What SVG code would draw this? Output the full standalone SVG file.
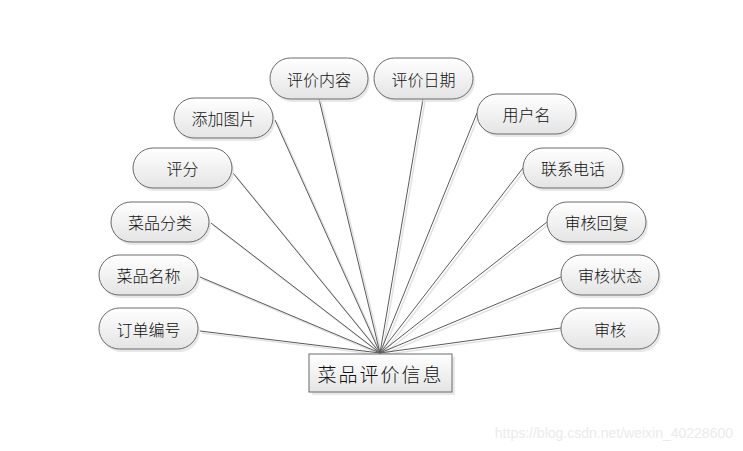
<svg xmlns="http://www.w3.org/2000/svg" width="743" height="451" viewBox="0 0 743 451">
<defs>
<linearGradient id="g" x1="0" y1="0" x2="0" y2="1">
<stop offset="0" stop-color="#ffffff"/>
<stop offset="1" stop-color="#e4e4e4"/>
</linearGradient>
</defs>
<style>
.n rect.s{fill:#d8d8d8;opacity:0.6}
.n rect.b{fill:url(#g);stroke:#6a6a6a;stroke-width:1}
.n text{font-family:"Noto Sans CJK SC","Liberation Sans",sans-serif;font-size:16px;font-weight:300;fill:#111;text-anchor:middle;dominant-baseline:central}
#c line{stroke:#5a5a5a;stroke-width:1}
#cs line{stroke:#e2e2e2;stroke-width:1.5}
</style>
<rect width="743" height="451" fill="#ffffff"/>
<g id="cs" transform="translate(2,2)">
<line x1="319" y1="99" x2="380" y2="353"/>
<line x1="423" y1="99" x2="380" y2="353"/>
<line x1="275" y1="120" x2="380" y2="353"/>
<line x1="233" y1="173" x2="380" y2="353"/>
<line x1="211" y1="223" x2="380" y2="353"/>
<line x1="200" y1="277" x2="380" y2="353"/>
<line x1="200" y1="331" x2="380" y2="353"/>
<line x1="477" y1="113" x2="380" y2="353"/>
<line x1="523" y1="168" x2="380" y2="353"/>
<line x1="547" y1="222" x2="380" y2="353"/>
<line x1="561" y1="277" x2="380" y2="353"/>
<line x1="561" y1="328" x2="380" y2="353"/>
</g>
<g id="c">
<line x1="319" y1="99" x2="380" y2="353"/>
<line x1="423" y1="99" x2="380" y2="353"/>
<line x1="275" y1="120" x2="380" y2="353"/>
<line x1="233" y1="173" x2="380" y2="353"/>
<line x1="211" y1="223" x2="380" y2="353"/>
<line x1="200" y1="277" x2="380" y2="353"/>
<line x1="200" y1="331" x2="380" y2="353"/>
<line x1="477" y1="113" x2="380" y2="353"/>
<line x1="523" y1="168" x2="380" y2="353"/>
<line x1="547" y1="222" x2="380" y2="353"/>
<line x1="561" y1="277" x2="380" y2="353"/>
<line x1="561" y1="328" x2="380" y2="353"/>
</g>
<g id="n1" class="n"><rect class="s" x="272" y="61" width="98" height="41" rx="20.5"/><rect class="b" x="270" y="58" width="98" height="41" rx="20.5"/><text x="319" y="78.5">评价内容</text></g>
<g id="n2" class="n"><rect class="s" x="376" y="61" width="99" height="41" rx="20.5"/><rect class="b" x="374" y="58" width="99" height="41" rx="20.5"/><text x="423.5" y="78.5">评价日期</text></g>
<g id="n3" class="n"><rect class="s" x="176" y="101" width="99" height="40" rx="20"/><rect class="b" x="174" y="98" width="99" height="40" rx="20"/><text x="223.5" y="118">添加图片</text></g>
<g id="n4" class="n"><rect class="s" x="135" y="151" width="99" height="40" rx="20"/><rect class="b" x="133" y="148" width="99" height="40" rx="20"/><text x="182.5" y="168">评分</text></g>
<g id="n5" class="n"><rect class="s" x="113" y="205" width="98" height="40" rx="20"/><rect class="b" x="111" y="202" width="98" height="40" rx="20"/><text x="160" y="222">菜品分类</text></g>
<g id="n6" class="n"><rect class="s" x="101" y="258" width="99" height="40" rx="20"/><rect class="b" x="99" y="255" width="99" height="40" rx="20"/><text x="148.5" y="275">菜品名称</text></g>
<g id="n7" class="n"><rect class="s" x="101" y="311" width="99" height="41" rx="20.5"/><rect class="b" x="99" y="308" width="99" height="41" rx="20.5"/><text x="148.5" y="328.5">订单编号</text></g>
<g id="n8" class="n"><rect class="s" x="479" y="97" width="99" height="40" rx="20"/><rect class="b" x="477" y="94" width="99" height="40" rx="20"/><text x="526.5" y="114">用户名</text></g>
<g id="n9" class="n"><rect class="s" x="525" y="151" width="100" height="40" rx="20"/><rect class="b" x="523" y="148" width="100" height="40" rx="20"/><text x="573" y="168">联系电话</text></g>
<g id="n10" class="n"><rect class="s" x="549" y="205" width="99" height="40" rx="20"/><rect class="b" x="547" y="202" width="99" height="40" rx="20"/><text x="596.5" y="222">审核回复</text></g>
<g id="n11" class="n"><rect class="s" x="563" y="258" width="98" height="40" rx="20"/><rect class="b" x="561" y="255" width="98" height="40" rx="20"/><text x="610" y="275">审核状态</text></g>
<g id="n12" class="n"><rect class="s" x="563" y="311" width="98" height="41" rx="20.5"/><rect class="b" x="561" y="308" width="98" height="41" rx="20.5"/><text x="610" y="328.5">审核</text></g>
<g id="center" class="n"><rect class="s" x="312" y="357" width="143" height="38" rx="0"/><rect class="b" x="309" y="354" width="143" height="38" rx="0"/><text x="380.5" y="373" style="font-size:19px;letter-spacing:2px">菜品评价信息</text></g>
<text x="733" y="438" style="font-family:'Liberation Sans',sans-serif;font-size:14px;fill:#ebebeb;text-anchor:end">https://blog.csdn.net/weixin_40228600</text>
</svg>
